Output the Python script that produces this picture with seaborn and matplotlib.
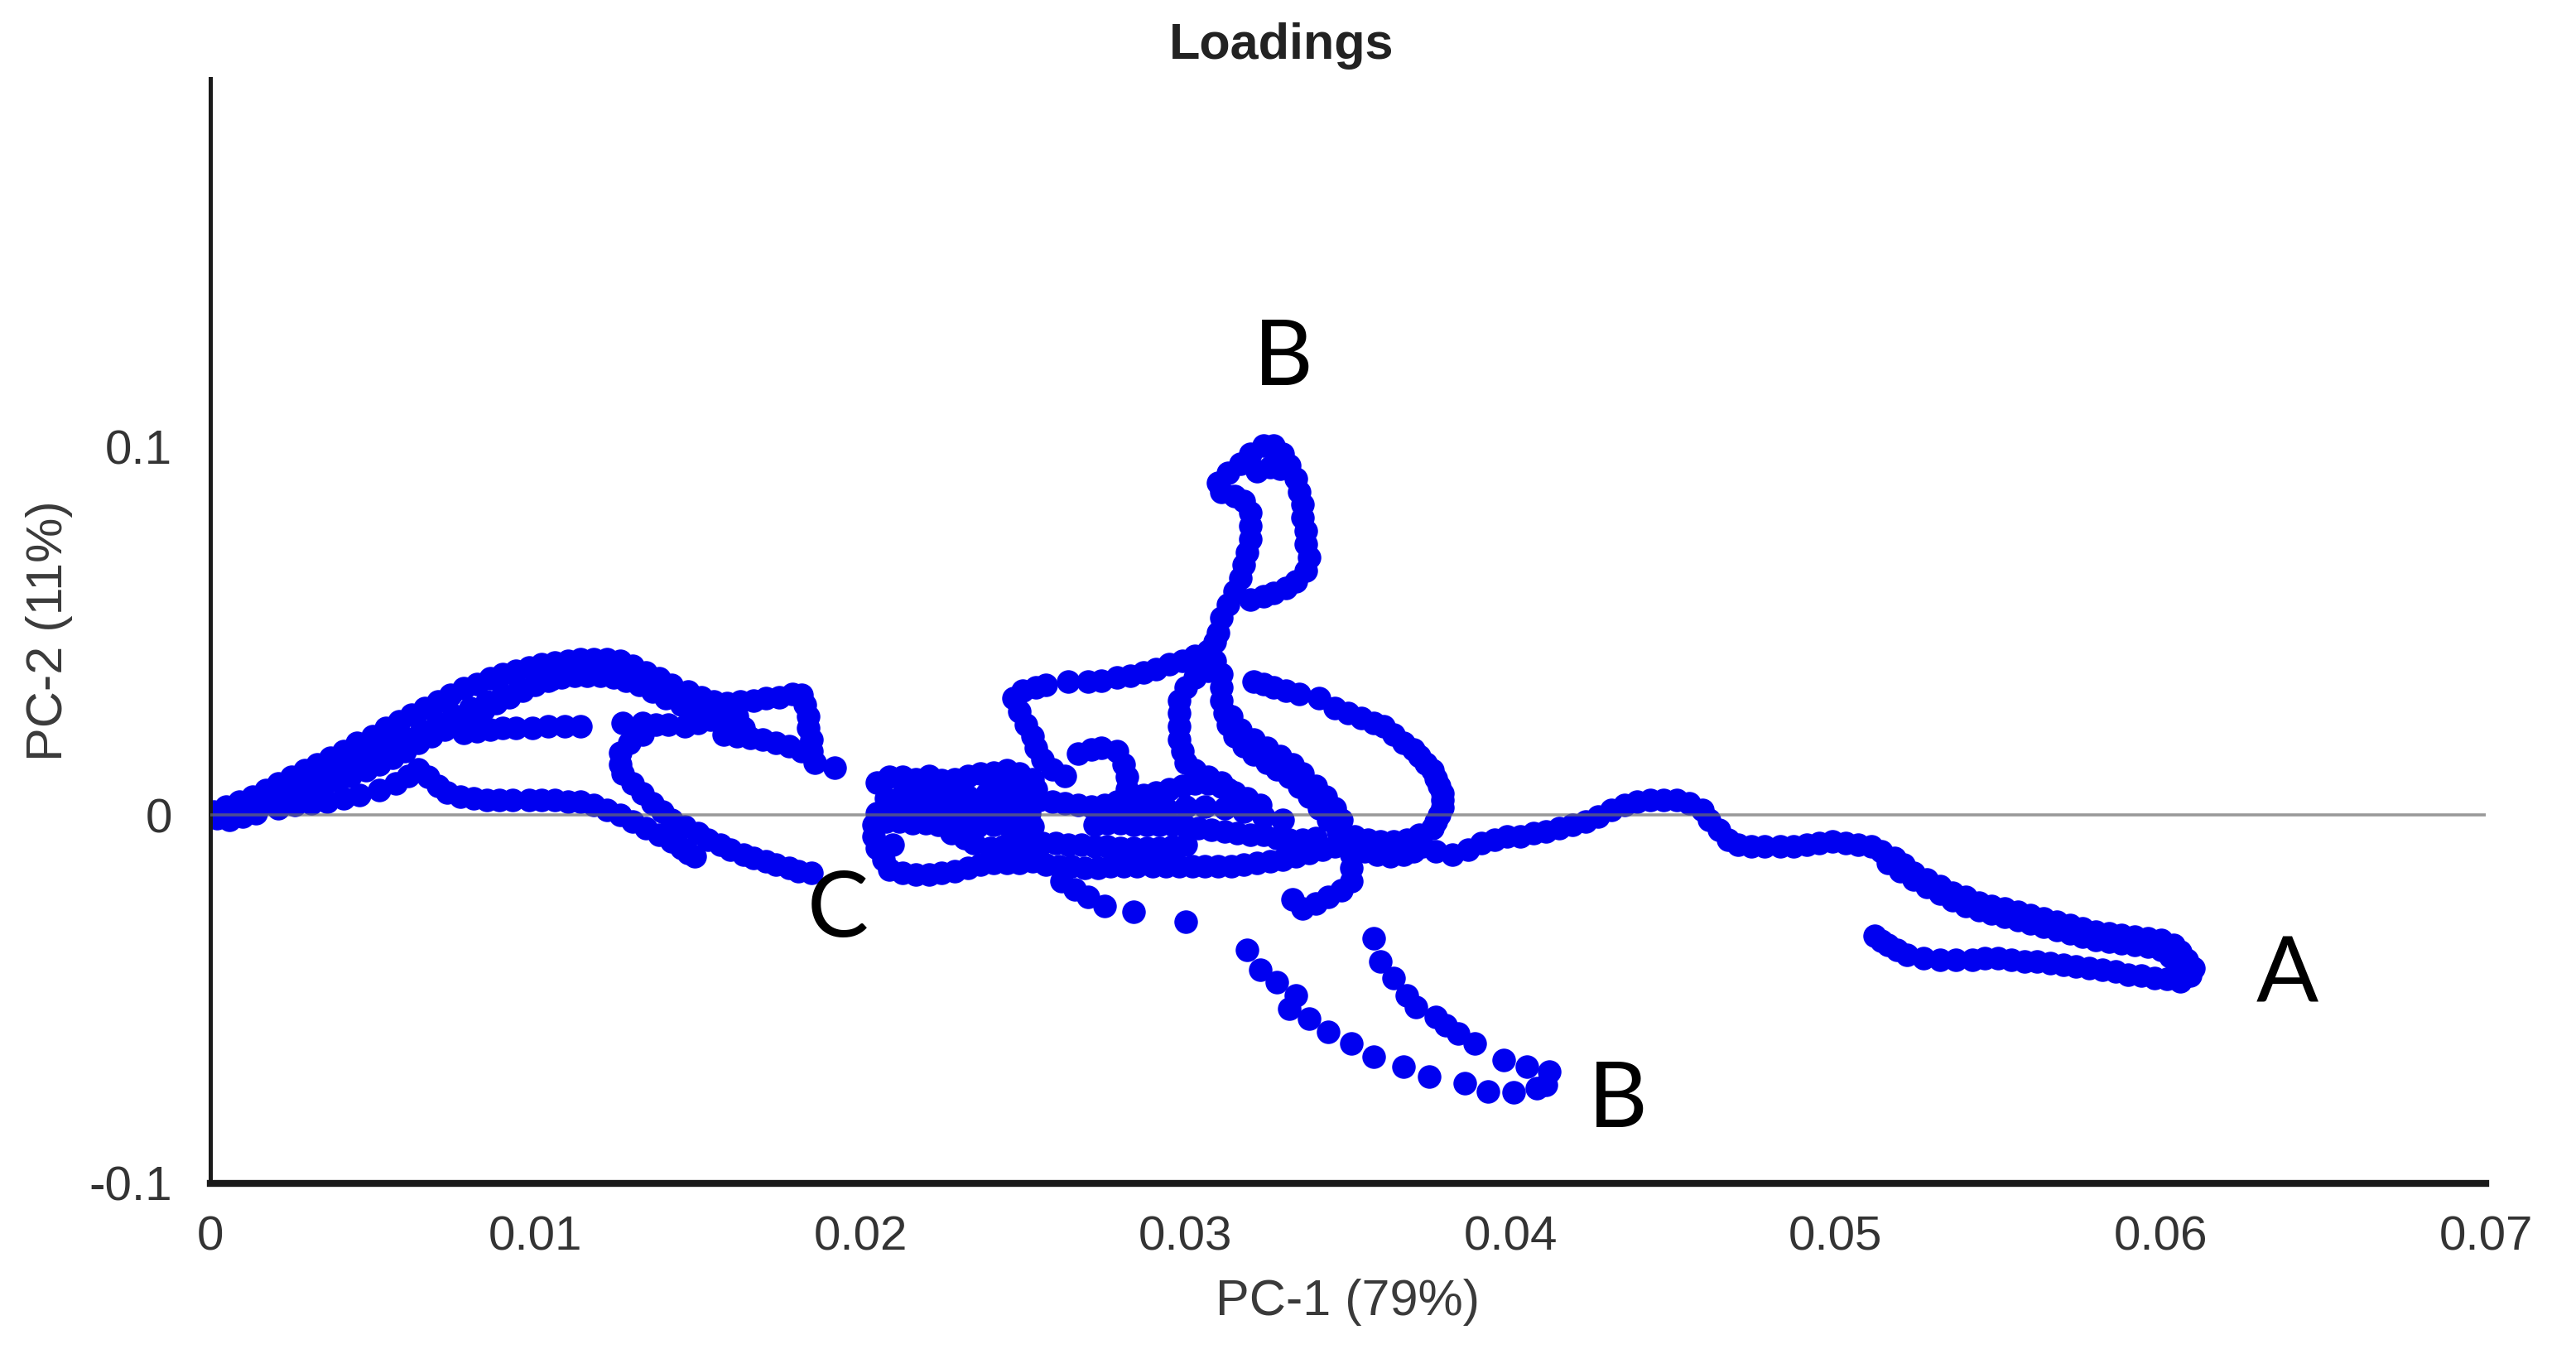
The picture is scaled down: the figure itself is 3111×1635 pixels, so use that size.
import numpy as np
import pandas as pd
import seaborn as sns
import matplotlib.pyplot as plt

sns.set_style("white")
plt.rcParams["font.family"] = ["Liberation Sans", "DejaVu Sans"]

# Loadings, (PC-1, PC-2) in units of 1e-3
rise_upper = [(0.1, 0.9), (0.5, 2.2), (0.9, 3.6), (1.3, 4.9), (1.7, 6.7), (2.1, 8.5), (2.5, 10.3),
              (2.9, 12.1), (3.3, 13.8), (3.7, 15.6), (4.1, 17.4), (4.5, 19.6), (5.0, 21.4), (5.4, 23.7),
              (5.8, 25.4), (6.2, 27.2), (6.6, 29.0), (7.0, 30.8), (7.4, 32.6), (7.8, 34.4), (8.2, 35.7),
              (8.6, 37.1), (9.0, 38.4), (9.4, 39.3), (9.8, 40.2), (10.2, 41.1), (10.6, 41.5), (11.0, 42.0),
              (11.4, 42.4), (11.8, 42.4), (12.2, 42.4), (12.6, 42.0), (13.0, 40.6), (13.4, 38.8),
              (13.8, 37.1), (14.2, 35.3), (14.7, 33.5), (15.1, 32.1), (15.5, 30.8), (15.9, 30.4)]
rise_mid = [(1.5, 4.0), (2.0, 5.8), (2.5, 7.6), (3.0, 9.4), (3.5, 11.2), (4.0, 13.0), (4.5, 15.0),
            (5.0, 17.0), (5.5, 19.1), (6.0, 21.0), (6.5, 23.1), (7.0, 25.0), (7.5, 27.0), (8.0, 29.0),
            (8.5, 30.8), (9.0, 32.6), (9.5, 34.2), (10.0, 35.7), (10.5, 37.0), (11.0, 38.2), (11.5, 39.0),
            (12.0, 39.4), (12.5, 39.0), (13.0, 37.8), (13.5, 36.0), (14.0, 34.2), (14.5, 32.2)]
rise_lower = [(0.7, 0.0), (1.1, 1.3), (1.5, 2.2), (1.9, 3.1), (2.3, 4.0), (2.7, 5.4), (3.1, 6.7),
              (3.5, 8.0), (3.9, 9.4), (4.3, 10.7), (4.8, 12.1), (5.2, 13.8), (5.6, 15.6), (6.0, 17.4),
              (6.4, 19.6), (6.8, 21.4), (7.2, 23.2), (7.6, 25.0), (8.0, 26.8), (8.4, 28.6), (8.8, 30.4),
              (9.2, 32.1), (9.6, 33.9), (10.0, 35.3), (10.4, 36.6), (10.8, 37.5), (11.2, 37.9),
              (11.6, 37.9), (12.0, 37.9), (12.4, 37.5), (12.8, 36.6), (13.2, 35.3), (13.6, 33.5),
              (14.0, 31.7), (14.5, 29.9), (14.9, 28.6), (15.3, 27.7)]
rise_base = [(0.2, -0.9), (0.6, -1.3), (1.0, -0.4), (1.4, 0.4), (2.1, 1.8), (2.6, 2.7), (3.1, 3.1),
             (3.6, 3.6), (4.1, 4.5), (4.6, 5.4), (5.2, 6.7), (5.7, 8.5), (6.1, 10.7)]
flag = [(16.3, 30.8), (16.7, 31.2), (17.1, 31.7), (17.5, 32.1), (17.9, 33.0), (18.2, 32.6), (18.3, 29.9),
        (18.4, 26.8), (18.4, 23.7), (18.5, 20.5), (18.5, 17.4), (18.6, 14.3), (19.2, 12.9), (15.8, 21.9),
        (16.2, 21.4), (16.6, 21.0), (17.0, 20.5), (17.4, 19.6), (17.8, 18.7), (18.2, 17.4), (16.2, 26.8),
        (16.4, 23.7)]
inner_dots = [(7.8, 22.3), (8.2, 22.8), (8.6, 23.2), (9.0, 23.7), (9.4, 23.7), (9.9, 23.7), (10.4, 24.1),
              (10.9, 24.1), (11.4, 24.1), (12.7, 25.0), (13.0, 23.2), (13.3, 25.0), (13.7, 24.6),
              (14.1, 24.6), (14.6, 24.1), (15.0, 25.0), (15.4, 25.9), (15.8, 25.9)]
hook = [(13.3, 21.9), (12.9, 19.6), (12.6, 17.0), (12.6, 13.8), (12.7, 11.2), (13.0, 8.5), (13.3, 5.8),
        (13.6, 3.1), (13.9, 0.9), (14.2, -1.3), (14.6, -3.1), (15.0, -4.9), (15.3, -6.7), (15.7, -8.0),
        (16.0, -9.4), (16.4, -10.7), (16.7, -11.6), (17.1, -12.5), (17.4, -13.4), (17.8, -14.3),
        (18.1, -15.2), (18.5, -15.6)]
inner_band = [(6.4, 12.5), (6.7, 10.3), (7.0, 8.0), (7.3, 6.2), (7.7, 4.9), (8.1, 4.5), (8.5, 4.0),
              (8.9, 4.0), (9.3, 4.0), (9.8, 4.0), (10.2, 4.0), (10.6, 4.0), (11.0, 3.6), (11.4, 3.6),
              (11.8, 2.7), (12.2, 1.3), (12.6, 0.0), (13.0, -1.8), (13.4, -3.6), (13.8, -5.4),
              (14.2, -7.1), (14.5, -8.9), (14.7, -10.3), (14.9, -11.2)]
c_arm = [(20.5, 8.9), (20.9, 10.3), (21.3, 10.3), (21.7, 9.8), (22.1, 10.7), (22.5, 9.4), (22.9, 9.8),
         (23.3, 10.7), (23.7, 11.2), (24.1, 11.6), (24.5, 12.1), (24.9, 11.2), (25.3, 9.8), (20.8, 4.5),
         (21.3, 5.4), (21.8, 5.8), (22.3, 5.4), (22.8, 4.5), (23.3, 4.9), (23.9, 5.8), (24.4, 6.7),
         (24.9, 7.1), (25.4, 7.1)]
c_body = [(20.5, 0.4), (20.4, -2.7), (20.4, -5.8), (20.5, -8.9), (20.7, -12.1), (20.9, -14.7),
          (21.0, -8.0), (21.3, -15.6), (21.7, -16.1), (22.1, -16.1), (22.5, -15.6), (22.9, -15.2),
          (23.3, -14.3), (23.7, -13.4), (24.1, -12.9), (24.5, -12.9), (24.9, -12.9), (25.3, -12.5),
          (22.8, -4.9), (23.2, -6.2), (23.5, -7.6)]
band_top = [(23.9, 3.6), (24.3, 4.0), (24.7, 4.5), (25.1, 4.5), (25.5, 4.0), (25.9, 3.6), (26.3, 3.1),
            (26.7, 2.7), (27.1, 2.2), (27.5, 2.7), (27.9, 3.6), (28.3, 4.5), (28.7, 5.4), (29.1, 6.2),
            (29.5, 7.1), (29.9, 8.0), (30.3, 8.5), (30.7, 8.5), (31.1, 7.6), (31.5, 6.2), (31.9, 4.5),
            (32.3, 2.7)]
band_fill = [(21.0, 1.5), (21.6, 1.3), (22.2, 1.3), (22.8, 0.9), (23.4, 0.9), (24.0, 0.4), (24.6, 0.4),
             (25.2, 0.4), (27.6, 0.4), (28.2, 0.9), (28.8, 1.3), (29.4, 1.8), (30.0, 2.2), (30.6, 2.2),
             (31.2, 1.8), (31.8, 0.9), (32.4, -0.4), (33.0, -1.3)]
band_mid = [(20.8, -1.8), (21.2, -1.8), (21.6, -2.2), (22.0, -2.2), (22.4, -2.7), (22.8, -3.1),
            (23.2, -3.1), (23.6, -3.1), (24.1, -2.7), (24.5, -2.7), (24.9, -2.7), (25.3, -3.1),
            (27.2, -2.7), (27.6, -2.2), (28.0, -2.2), (28.4, -2.7), (28.8, -2.7), (29.2, -2.7),
            (29.6, -2.7), (30.0, -3.1), (30.4, -3.6), (30.8, -4.0), (31.2, -4.5), (31.6, -4.9),
            (32.0, -5.4), (32.4, -5.4), (32.8, -6.2), (33.2, -6.7), (33.6, -6.7), (34.0, -6.2)]
band_low = [(24.0, -8.9), (24.4, -8.5), (24.8, -8.0), (25.2, -7.6), (25.6, -7.6), (26.0, -7.6),
            (26.4, -8.0), (26.8, -8.0), (27.2, -8.5), (27.6, -8.5), (28.0, -8.9), (28.4, -8.9),
            (28.8, -8.9), (29.2, -8.9), (29.6, -8.5), (30.0, -8.0)]
band_base = [(25.7, -13.4), (26.1, -13.8), (26.5, -13.8), (26.9, -14.3), (27.3, -14.3), (27.7, -13.8),
             (28.1, -13.8), (28.5, -13.8), (29.0, -13.8), (29.4, -13.8), (29.8, -13.8), (30.2, -13.8),
             (30.6, -13.8), (31.0, -13.8), (31.4, -13.8), (31.8, -13.4), (32.2, -12.9), (32.6, -12.5),
             (33.0, -12.1), (33.4, -11.2), (33.8, -10.3), (34.2, -9.4), (34.6, -8.5)]
gamma = [(24.7, 31.7), (24.9, 28.1), (25.1, 24.6), (25.3, 21.4), (25.4, 18.3), (25.6, 15.2), (25.9, 12.5),
         (26.3, 10.7), (25.0, 33.9), (25.4, 34.8), (25.7, 35.3), (26.4, 36.2), (27.0, 36.2), (27.4, 36.6),
         (27.9, 37.5), (28.3, 37.9), (28.7, 38.8), (29.1, 39.7), (29.5, 41.1), (29.9, 42.0), (30.3, 43.3),
         (30.7, 44.6), (26.7, 16.7), (27.1, 17.9), (27.4, 18.3), (27.9, 17.4), (28.1, 13.8), (28.2, 10.3),
         (28.2, 7.1)]
u_loop = [(30.7, 39.3), (30.3, 37.5), (30.0, 34.8), (29.8, 31.2), (29.8, 27.7), (29.8, 24.1), (29.8, 20.5),
          (29.9, 17.4), (30.0, 14.3), (30.3, 12.1), (30.7, 10.3), (31.1, 8.9), (31.3, 7.1)]
stem = [(30.9, 42.0), (31.1, 38.4), (31.1, 34.8), (31.1, 31.2), (31.2, 27.7), (31.3, 24.6), (31.5, 21.4),
        (31.8, 18.7), (32.1, 16.5), (32.5, 14.3), (32.8, 12.5), (33.2, 10.3), (33.5, 7.6), (33.8, 4.9),
        (34.1, 1.8), (34.4, -1.3), (34.7, -4.5), (34.9, -7.6), (35.1, -10.7), (35.1, -14.3),
        (35.1, -17.9), (34.8, -20.5), (34.4, -22.3), (34.0, -24.1), (33.6, -25.4), (33.3, -22.8)]
stem_side = [(31.4, 26.8), (31.7, 23.2), (32.1, 20.5), (32.5, 18.3), (32.9, 16.1), (33.3, 13.8),
             (33.6, 11.2), (34.0, 8.0), (34.3, 4.9), (34.6, 1.8), (34.8, -1.3)]
head = [(30.9, 47.0), (31.0, 49.5), (31.1, 53.6), (31.3, 57.1), (31.5, 60.7), (31.7, 64.3), (31.8, 67.9),
        (31.9, 71.4), (32.0, 75.0), (32.0, 78.6), (32.0, 82.1), (31.8, 85.3), (31.5, 86.6), (31.1, 87.9),
        (31.0, 90.2), (31.3, 92.9), (31.7, 95.5), (32.0, 98.2), (32.4, 100.4), (32.7, 100.4),
        (33.0, 98.2), (33.2, 95.1), (33.4, 91.5), (33.5, 87.9), (33.6, 84.4), (33.6, 80.8),
        (33.7, 77.2), (33.7, 73.7), (33.8, 70.1), (33.7, 66.5), (33.4, 63.4), (33.1, 61.6),
        (32.7, 60.3), (32.4, 59.4), (32.0, 58.5), (32.2, 93.5), (32.6, 94.6), (32.9, 94.2)]
ellipse = [(32.1, 36.2), (32.4, 35.5), (32.7, 34.8), (33.1, 33.9), (33.5, 33.0), (34.1, 31.7),
           (34.6, 29.0), (35.0, 27.7), (35.4, 26.3), (35.8, 25.0), (36.1, 24.1), (36.4, 21.9),
           (36.7, 19.6), (37.0, 17.9), (37.2, 16.1), (37.4, 14.1), (37.6, 12.1), (37.7, 10.0),
           (37.8, 8.0), (37.9, 6.0), (37.9, 4.0), (37.9, 2.0), (37.8, 0.0), (37.7, -1.8), (37.6, -3.6)]
ellipse_base = [(37.2, -5.4), (36.8, -6.7), (36.4, -7.1), (36.0, -7.1), (35.6, -6.7), (35.2, -5.8),
                (35.5, -9.8), (35.9, -10.7), (36.3, -11.2), (36.7, -10.7), (37.0, -9.8)]
a_out = [(37.3, -8.5), (37.7, -9.8), (38.2, -10.7), (38.7, -9.4), (39.1, -7.6), (39.5, -6.7), (39.9, -5.8),
         (40.3, -5.8), (40.7, -4.9), (41.1, -4.5), (41.5, -3.6), (41.9, -2.7), (42.3, -1.8), (42.7, -0.4),
         (43.1, 1.3), (43.5, 2.7), (43.9, 3.6), (44.3, 4.0), (44.7, 4.0), (45.1, 4.0), (45.5, 3.1),
         (45.9, 1.3), (46.1, -1.3), (46.4, -4.0), (46.7, -6.7), (47.0, -8.0), (47.4, -8.5), (47.8, -8.5),
         (48.3, -8.5), (48.7, -8.5), (49.1, -8.0), (49.5, -7.6), (49.9, -7.1), (50.3, -7.6), (50.7, -8.0),
         (51.1, -8.5), (51.4, -9.8), (51.8, -11.6), (52.1, -13.4), (52.4, -15.6), (52.8, -17.4),
         (53.2, -19.2), (53.6, -21.0), (54.0, -22.3), (54.4, -23.7), (54.8, -24.6), (55.2, -25.4),
         (55.6, -26.3), (56.0, -27.2), (56.4, -28.1), (56.8, -29.0), (57.2, -29.9), (57.6, -30.8),
         (58.0, -31.7), (58.4, -32.1), (58.8, -32.6), (59.2, -33.0), (59.6, -33.5), (60.0, -33.9),
         (60.4, -35.3), (60.6, -37.1), (60.8, -39.3), (61.0, -41.5), (60.9, -43.7), (60.6, -45.1)]
a_edge = [(51.6, -12.9), (52.0, -15.2), (52.4, -17.6), (52.8, -19.6), (53.2, -21.4), (53.6, -23.2),
          (54.0, -24.6), (54.4, -25.9), (54.8, -26.8), (55.2, -27.7), (55.6, -28.6), (56.0, -29.5),
          (56.4, -30.4), (56.8, -31.2), (57.2, -32.1), (57.6, -33.0), (58.0, -33.9), (58.4, -34.4),
          (58.8, -34.8), (59.2, -35.3), (59.6, -35.7), (60.0, -36.6), (60.3, -38.4), (60.5, -40.6),
          (60.6, -42.8)]
a_back = [(60.2, -44.6), (59.8, -44.2), (59.4, -43.7), (59.0, -43.3), (58.6, -42.4), (58.2, -42.0),
          (57.8, -41.5), (57.4, -41.1), (57.0, -40.6), (56.6, -40.2), (56.2, -39.7), (55.8, -39.7),
          (55.4, -39.3), (55.0, -38.8), (54.6, -38.8), (54.2, -39.3), (53.7, -39.3), (53.2, -39.3),
          (52.7, -38.8), (52.2, -37.9), (51.9, -36.6), (51.6, -35.3), (51.4, -34.2), (51.2, -32.8)]
b_dots_outer = [(26.2, -17.9), (26.6, -20.1), (27.0, -22.3), (27.5, -24.6), (28.4, -26.3), (30.0, -29.0),
                (31.9, -36.6), (32.3, -42.0), (32.8, -45.5), (33.4, -49.1), (33.2, -52.7), (33.8, -55.4),
                (34.4, -58.9), (35.1, -62.1), (35.8, -65.6), (36.7, -68.3), (37.5, -71.0), (38.6, -72.8),
                (39.3, -75.0), (40.1, -75.4), (40.8, -74.1)]
b_dots_inner = [(35.8, -33.5), (36.0, -39.7), (36.4, -44.2), (36.8, -49.1), (37.1, -52.2), (37.7, -54.9),
                (38.0, -57.1), (38.4, -59.4), (38.9, -62.1), (39.8, -66.5), (40.5, -68.3), (41.2, -69.6),
                (41.1, -73.2)]

branches = {
    "rise_upper": rise_upper, "rise_mid": rise_mid, "rise_lower": rise_lower, "rise_base": rise_base,
    "flag": flag, "inner_dots": inner_dots, "hook": hook, "inner_band": inner_band, "c_arm": c_arm,
    "c_body": c_body, "band_top": band_top, "band_fill": band_fill, "band_mid": band_mid,
    "band_low": band_low, "band_base": band_base, "gamma": gamma, "u_loop": u_loop, "stem": stem,
    "stem_side": stem_side, "head": head, "ellipse": ellipse, "ellipse_base": ellipse_base,
    "a_out": a_out, "a_edge": a_edge, "a_back": a_back,
    "b_dots_outer": b_dots_outer, "b_dots_inner": b_dots_inner,
}

frames = []
for name, pts in branches.items():
    arr = np.array(pts) / 1000
    frames.append(pd.DataFrame({"pc1": arr[:, 0], "pc2": arr[:, 1], "branch": name}))
loadings = pd.concat(frames, ignore_index=True)

# region labels (x, y of baseline centre)
peak_labels = [("A", 0.0639, -0.0509), ("B", 0.0330, 0.1169), ("B", 0.0433, -0.0847), ("C", 0.0193, -0.0330)]

x_ticks = [0, 0.01, 0.02, 0.03, 0.04, 0.05, 0.06, 0.07]
x_tick_labels = ["0", "0.01", "0.02", "0.03", "0.04", "0.05", "0.06", "0.07"]
y_ticks = [-0.1, 0, 0.1]
y_tick_labels = ["-0.1", "0", "0.1"]

fig = plt.figure(figsize=(15.555, 8.175), dpi=200)
ax = fig.add_axes([0.0816, 0.1262, 0.8834, 0.8155])

sns.scatterplot(data=loadings, x="pc1", y="pc2", color="#0000f0", s=105,
                linewidth=0, ax=ax, zorder=2, legend=False)
ax.axhline(0, color="#6e6e6e", lw=1.3, alpha=0.7, zorder=3)

for letter, lx, ly in peak_labels:
    ax.text(lx, ly, letter, fontsize=40, family=["Lato", "DejaVu Sans"],
            ha="center", va="baseline", color="black")

ax.set_xlim(0, 0.07)
ax.set_ylim(-0.1, 0.2)
ax.set_xticks(x_ticks)
ax.set_xticklabels(x_tick_labels)
ax.set_yticks(y_ticks)
ax.set_yticklabels(y_tick_labels)
ax.set_xticks(np.arange(0.005, 0.07, 0.01), minor=True)
ax.set_yticks([-0.05, 0.05, 0.15], minor=True)

for side in ["top", "right"]:
    ax.spines[side].set_visible(False)
ax.spines["left"].set_linewidth(1.8)
ax.spines["bottom"].set_linewidth(3)
ax.spines["left"].set_color("#1a1a1a")
ax.spines["bottom"].set_color("#1a1a1a")

ax.tick_params(axis="x", which="major", direction="out", length=8, width=1.3,
               pad=6, labelsize=21, labelcolor="#333333", color="#1a1a1a")
ax.tick_params(axis="x", which="minor", direction="out", length=6, width=1.3, color="#1a1a1a")
ax.tick_params(axis="y", which="major", direction="out", length=7.5, width=1.3,
               pad=9, labelsize=21, labelcolor="#333333", color="#1a1a1a")
ax.tick_params(axis="y", which="minor", direction="out", length=4, width=1.3, color="#1a1a1a")

ax.set_xlabel("PC-1 (79%)", fontsize=22, color="#3a3a3a", labelpad=8)
ax.set_ylabel("PC-2 (11%)", fontsize=22, color="#3a3a3a", labelpad=7)

fig.text(0.4974, 1 - 28 / 824, "Loadings", ha="center", va="center",
         fontsize=22, fontweight="bold", color="#222222")

fig.savefig("out.png", dpi=200, facecolor="white")
